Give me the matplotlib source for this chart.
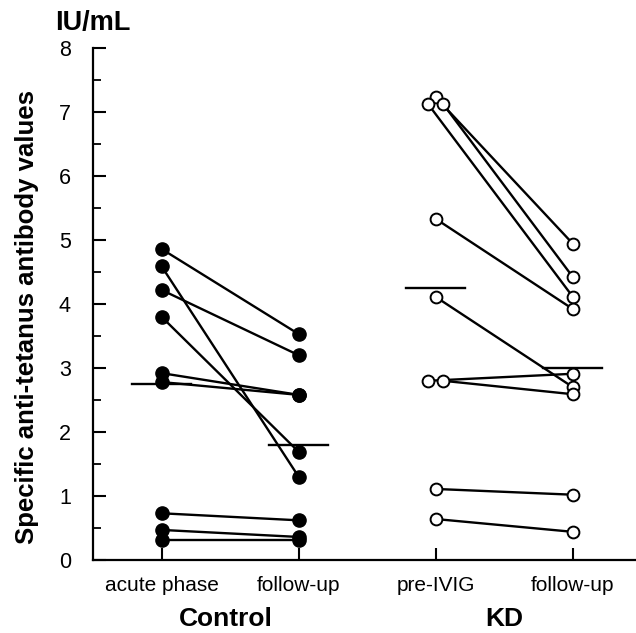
import matplotlib
matplotlib.use("Agg")
import matplotlib.pyplot as plt
from matplotlib.ticker import MultipleLocator
import numpy as np

# ---- data ----
groups = ["Control", "KD"]
timepoint_labels = ["acute phase", "follow-up", "pre-IVIG", "follow-up"]
ctrl_acute = [4.86, 4.59, 4.22, 3.80, 2.92, 2.78, 0.73, 0.47, 0.31]
ctrl_follow = [3.53, 1.30, 3.20, 1.69, 2.58, 2.58, 0.62, 0.36, 0.31]
kd_pre = [7.23, 7.12, 7.12, 5.33, 4.11, 2.80, 2.80, 1.11, 0.64]
kd_follow = [4.94, 4.11, 4.42, 3.92, 2.70, 2.91, 2.59, 1.02, 0.44]
kd_pre_jitter = [0.0, -0.055, 0.055, 0.0, 0.0, -0.055, 0.055, 0.0, 0.0]  # x offsets (style)

plt.rcParams["font.family"] = ["Liberation Sans", "DejaVu Sans"]

fig = plt.figure(figsize=(6.36, 6.33), dpi=100)
ax = fig.add_axes([93 / 636, 73 / 633, (636 - 93) / 636, 512 / 633])

xpos = [1, 2, 3, 4]
lw = 1.7
# control pairs
for a, b in zip(ctrl_acute, ctrl_follow):
    ax.plot([xpos[0], xpos[1]], [a, b], color="black", lw=lw, zorder=2)
ax.plot([xpos[0]] * len(ctrl_acute), ctrl_acute, "o", ms=9.5, color="black", zorder=3)
ax.plot([xpos[1]] * len(ctrl_follow), ctrl_follow, "o", ms=9.5, color="black", zorder=3)

# KD pairs
for a, b, j in zip(kd_pre, kd_follow, kd_pre_jitter):
    ax.plot([xpos[2] + j, xpos[3]], [a, b], color="black", lw=lw, zorder=2)
ax.plot([xpos[2] + j for j in kd_pre_jitter], kd_pre, "o", ms=8.5, mfc="white",
        mec="black", mew=1.4, zorder=3)
ax.plot([xpos[3]] * len(kd_follow), kd_follow, "o", ms=8.5, mfc="white",
        mec="black", mew=1.4, zorder=3)

# mean lines
for x, vals in zip(xpos, [ctrl_acute, ctrl_follow, kd_pre, kd_follow]):
    m = np.mean(vals)
    ax.plot([x - 0.215, x + 0.215], [m, m], color="black", lw=1.7, zorder=1)

ax.set_xlim(0.5, 4.46)
ax.set_ylim(0, 8)
for s in ["top", "right"]:
    ax.spines[s].set_visible(False)
ax.spines["left"].set_linewidth(1.6)
ax.spines["bottom"].set_linewidth(1.6)

ax.yaxis.set_major_locator(MultipleLocator(1))
ax.yaxis.set_minor_locator(MultipleLocator(0.5))
ax.tick_params(axis="y", which="major", direction="in", length=9.5, width=1.5,
               pad=16, labelsize=15.5)
ax.tick_params(axis="y", which="minor", direction="in", length=6, width=1.3)
ax.set_xticks(xpos)
ax.set_xticklabels(timepoint_labels)
ax.tick_params(axis="x", direction="in", length=8.5, width=1.5, pad=11.5, labelsize=15)

fig.text(27 / 636, 1 - 317 / 633, "Specific anti-tetanus antibody values",
         rotation=90, fontsize=18.5, fontweight="bold", ha="center", va="center")

fig.text(55 / 636, 1 - 23 / 633, "IU/mL", fontsize=19.5, fontweight="bold",
         ha="left", va="center")

for gname, xc in zip(groups, [1.47, 3.5]):
    ax.text(xc, -0.092, gname, transform=ax.get_xaxis_transform(), ha="center",
            va="top", fontsize=19, fontweight="bold")

fig.savefig("out.png", dpi=100)
